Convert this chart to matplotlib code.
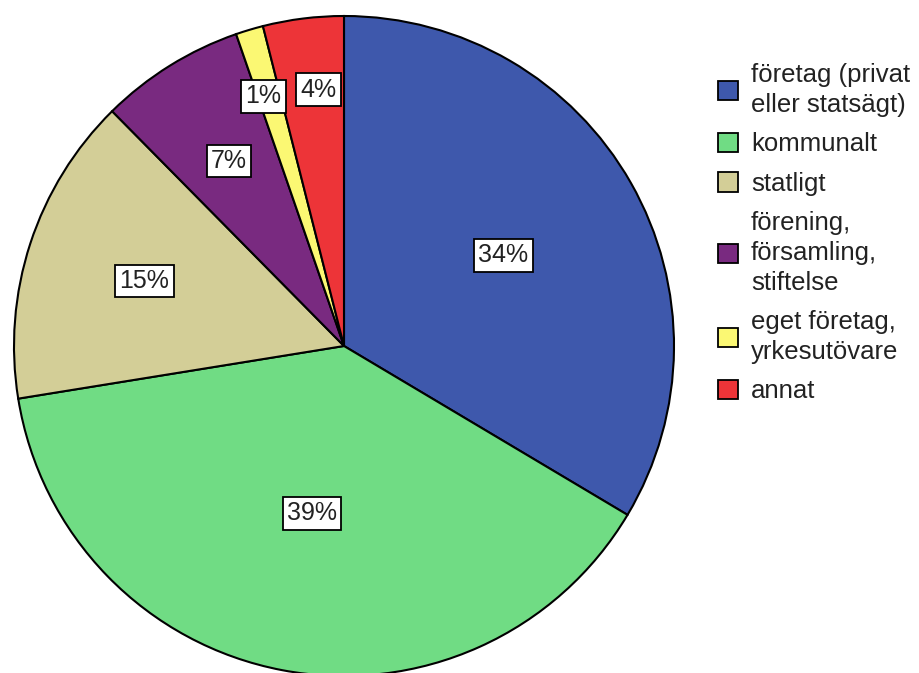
import numpy as np
import matplotlib
matplotlib.use("Agg")
import matplotlib.pyplot as plt
from matplotlib.patches import Patch

plt.rcParams['font.family'] = ['Liberation Sans', 'DejaVu Sans']

categories = ["företag (privat\neller statsägt)", "kommunalt", "statligt",
              "förening,\nförsamling,\nstiftelse", "eget företag,\nyrkesutövare", "annat"]
values = [33.55, 38.9, 15.15, 7.1, 1.35, 3.95]
pct_labels = ["34%", "39%", "15%", "7%", "1%", "4%"]
colors = ["#3E58AC", "#70DC84", "#D3CE97", "#792A80", "#FBF873", "#ED3438"]
label_radius = [0.556, 0.516, 0.636, 0.66, 0.795, 0.781]
label_angle_shift = [0.0, 0.0, 0.0, 0.0, 1.2, -1.5]

fig = plt.figure(figsize=(9.19, 6.73), dpi=100)
ax = fig.add_axes([14/919, 1 - (16 + 660)/673, 660/919, 660/673])
wedges, _ = ax.pie(values, colors=colors, startangle=90, counterclock=False,
                   wedgeprops=dict(edgecolor="black", linewidth=1.5))
ax.set_xlim(-1, 1)
ax.set_ylim(-1, 1)
ax.set_aspect('equal')
ax.axis('off')

for w, lab, r, sh in zip(wedges, pct_labels, label_radius, label_angle_shift):
    ang = np.deg2rad((w.theta1 + w.theta2) / 2 + sh)
    ax.text(r * np.cos(ang), r * np.sin(ang), lab, ha='center', va='center',
            fontsize=18, color='#222222',
            bbox=dict(boxstyle='square,pad=0.17', facecolor='white',
                      edgecolor='black', linewidth=1.3))

handles = [Patch(facecolor=c, edgecolor='black', linewidth=1.3) for c in colors]
leg = fig.legend(handles, categories, loc='upper left', bbox_to_anchor=(0.7815, 0.906),
                 frameon=False, fontsize=18.5, handlelength=0.78, handleheight=0.78,
                 handletextpad=0.5, labelspacing=0.6, borderpad=0, borderaxespad=0,
                 labelcolor='#222222')
for t in leg.get_texts():
    t.set_linespacing(1.3)

fig.savefig("out.png", dpi=100)
